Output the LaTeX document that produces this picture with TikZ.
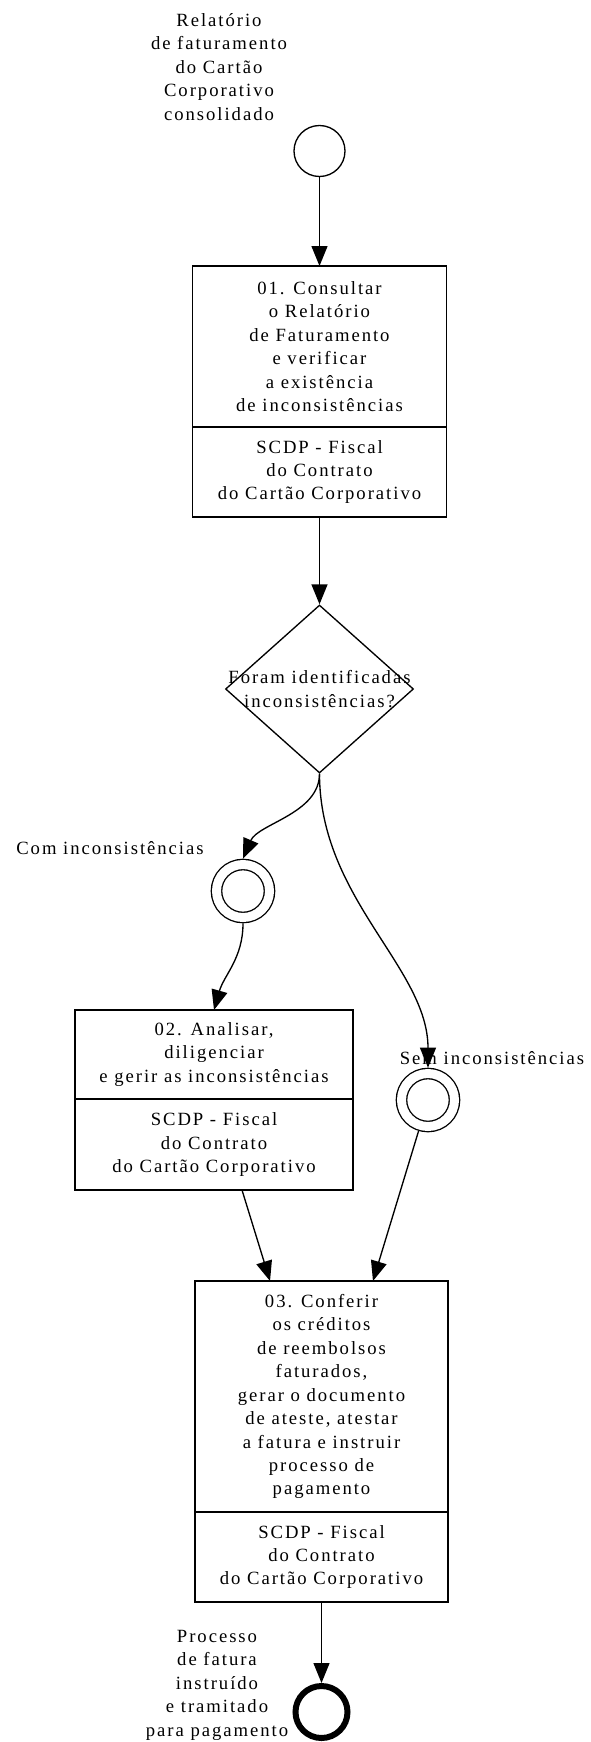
\documentclass[tikz,border=0pt]{standalone}
\usepackage{fontspec}
\setmainfont{Liberation Serif}[LetterSpace=10.5]
\usepackage{tikz}
\usetikzlibrary{shapes.geometric, arrows.meta, positioning}
\tikzset{
  task/.style={
    rectangle, draw=black, line width=1.3pt, minimum width=190.5pt,
    inner sep=0pt, outer sep=0pt, align=center,
    font=\fontsize{14}{17.6}\selectfont
  },
  gateway/.style={
    diamond, draw=black, line width=1pt, minimum width=141pt,
    minimum height=126pt, inner sep=0pt
  },
  event/.style={circle, draw=black, line width=1pt, minimum size=38.25pt, inner sep=0pt},
  midevent/.style={event, double, double distance=6.75pt, minimum size=39.75pt, outer sep=4.4pt},
  endevent/.style={event, line width=4.5pt, minimum size=39pt},
  arrow/.style={-{Triangle[length=15pt, width=12pt]}, line width=1pt},
  note/.style={align=center, font=\fontsize{14}{17.6}\selectfont}
}
\begin{document}
\begin{tikzpicture}[x=0.75pt, y=-0.75pt]
  \useasboundingbox (0,0) rectangle (590,1742);
  \node[event] (start) at (319.5,151) {};
  \node[note] (startnote) at (219,67)
    {Relatório\\de faturamento\\do Cartão\\Corporativo\\consolidado};
  \node[task, minimum height=120.75pt, anchor=north] (t1) at (319.5,266)
    {01. Consultar\\o Relatório\\de Faturamento\\e verificar\\a existência\\de inconsistências};
  \node[task, minimum height=67.5pt, below=0pt of t1] (t1r)
    {SCDP - Fiscal\\do Contrato\\do Cartão Corporativo};
  \node[gateway, label={[note]center:Foram identificadas\\inconsistências?}] (gw) at (319.5,689) {};
  \node[midevent] (com) at (243,891) {};
  \node[note] (comnote) at (110,848) {Com inconsistências};
  \node[midevent] (sem) at (428,1100) {};
  \node[note] (semnote) at (492,1058) {Sem inconsistências};
  \node[task, minimum width=208.5pt, minimum height=66.75pt, anchor=north] (t2) at (214,1010)
    {02. Analisar,\\diligenciar\\e gerir as inconsistências};
  \node[task, minimum width=208.5pt, minimum height=68.25pt, below=0pt of t2] (t2r)
    {SCDP - Fiscal\\do Contrato\\do Cartão Corporativo};
  \node[task, minimum width=189.75pt, minimum height=173.25pt, anchor=north] (t3) at (321.5,1281)
    {03. Conferir\\os créditos\\de reembolsos\\faturados,\\gerar o documento\\de ateste, atestar\\a fatura e instruir\\processo de\\pagamento};
  \node[task, minimum width=189.75pt, minimum height=67.5pt, below=0pt of t3] (t3r)
    {SCDP - Fiscal\\do Contrato\\do Cartão Corporativo};
  \node[endevent] (end) at (321.5,1712) {};
  \node[note] (endnote) at (217,1685)
    {Processo\\de fatura\\instruído\\e tramitado\\para pagamento};

  \draw[arrow] (start) -- (t1);
  \draw[arrow] (t1r) -- (gw);
  \draw[arrow] (gw.south) .. controls +(0,40) and +(15,-35) .. (com.north);
  \draw[arrow] (gw.south) .. controls +(0,125) and +(0,-100) .. (sem.north);
  \draw[arrow] (com.south) .. controls +(0,35) and +(10,-35) .. (t2.north);
  \draw[arrow] ([xshift=21pt]t2r.south) -- ([xshift=-38.6pt]t3.north);
  \draw[arrow] (sem) -- ([xshift=38.6pt]t3.north);
  \draw[arrow] (t3r) -- (end);
\end{tikzpicture}
\end{document}
